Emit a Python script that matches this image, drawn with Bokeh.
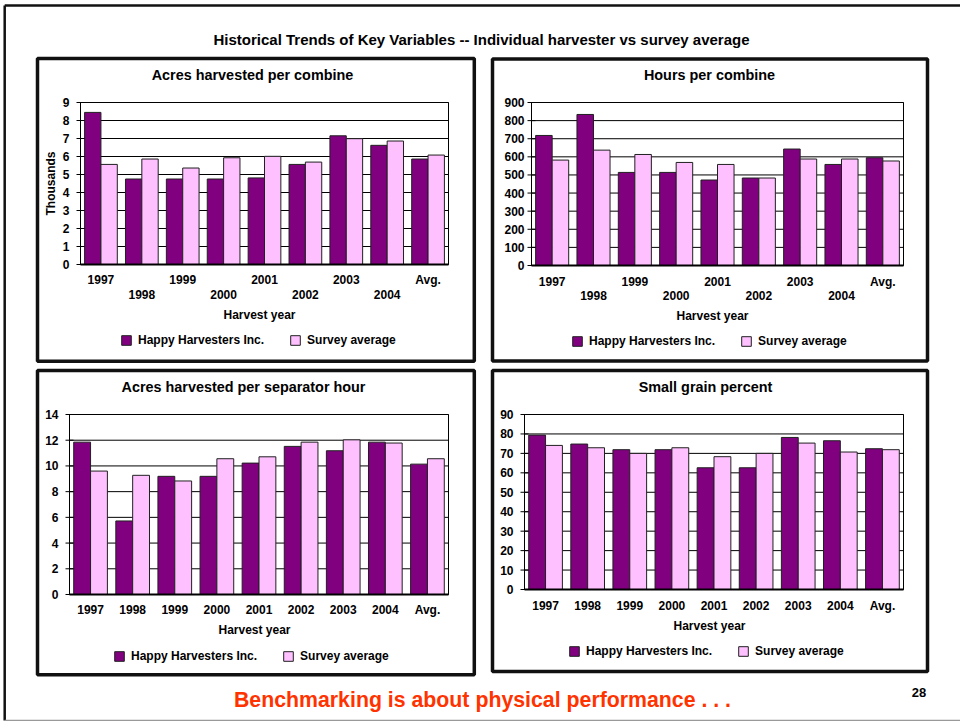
import math
from bokeh.plotting import figure
from bokeh.models import Range1d, Legend, LegendItem, ColumnDataSource
from bokeh.transform import dodge
from bokeh.core.properties import value
from bokeh.embed import file_html
from bokeh.resources import INLINE

# ---------------- data ----------------
years = ["1997", "1998", "1999", "2000", "2001", "2002", "2003", "2004", "Avg."]
series_names = ["Happy Harvesters Inc.", "Survey average"]

acres_hh = [8.45, 4.75, 4.75, 4.75, 4.81, 5.56, 7.15, 6.62, 5.86]
acres_sv = [5.56, 5.86, 5.36, 5.93, 6.01, 5.69, 6.99, 6.86, 6.08]
acres_ticks = [0, 1, 2, 3, 4, 5, 6, 7, 8, 9]

hours_hh = [718, 834, 514, 514, 472, 483, 643, 558, 595]
hours_sv = [582, 637, 613, 569, 558, 483, 588, 588, 577]
hours_ticks = [0, 100, 200, 300, 400, 500, 600, 700, 800, 900]

sep_hh = [11.85, 5.72, 9.19, 9.19, 10.22, 11.52, 11.18, 11.85, 10.14]
sep_sv = [9.60, 9.27, 8.83, 10.56, 10.71, 11.85, 12.03, 11.78, 10.56]
sep_ticks = [0, 2, 4, 6, 8, 10, 12, 14]

grain_hh = [79.4, 74.8, 71.9, 71.9, 62.6, 62.6, 78.2, 76.5, 72.4]
grain_sv = [74.1, 72.9, 70.0, 72.9, 68.3, 70.0, 75.3, 70.7, 71.9]
grain_ticks = [0, 10, 20, 30, 40, 50, 60, 70, 80, 90]

panel_titles = ["Acres harvested per combine", "Hours per combine",
                "Acres harvested per separator hour", "Small grain percent"]
main_title = "Historical Trends of Key Variables -- Individual harvester vs survey average"
footer_text = "Benchmarking is about physical performance . . ."
page_number = "28"
x_title = "Harvest year"
y_title = "Thousands"

# ---------------- style ----------------
FONT = "Liberation Sans"
HH_COLOR = "#800080"
SV_COLOR = "#FFC0FF"
BAR_LINE = "#202020"
W, H = 960, 721

positions = list(range(len(years)))

# one page-sized canvas, page pixel coordinates (y downwards)
p = figure(width=W, height=H, x_range=Range1d(0, W), y_range=Range1d(H, 0),
           output_backend="svg", toolbar_location=None, min_border=0,
           x_axis_location=None, y_axis_location=None)
p.title.visible = False
p.grid.visible = False
p.outline_line_color = None
p.background_fill_color = "white"
p.border_fill_color = "white"


def page_text(x, y, txt, size, color="#000000", angle=0.0):
    p.text(x=[x], y=[y], text=[txt], text_align="center", text_baseline="middle",
           angle=angle, text_font=value(FONT), text_font_style="bold",
           text_font_size=size, text_color=color)


# slide edges
p.segment(x0=[4.2, 4.2], y0=[5, 5], x1=[4.2, W], y1=[720, 5],
          line_color="#111111", line_width=2.5)
p.segment(x0=[4.2], y0=[720], x1=[W], y1=[720], line_color="#999999", line_width=1.5)

# panel boxes
p.quad(left=[37, 492, 37, 492], right=[473.8, 927, 473.8, 927],
       top=[58, 58.5, 370, 370], bottom=[360.7, 360.5, 674.3, 671],
       fill_color="white", line_color="#111111", line_width=3.5)

page_text(481, 39, main_title, "15px")
page_text(482, 699, footer_text, "21.3px", color="#FF3300")
page_text(918.5, 692, page_number, "13px")


def panel(frame, hh, sv, ticks, title, title_xy, xlabel_xy, legend_loc,
          label_offsets, stagger, tick_label_offset=-11, ylabel_xy=None):
    left, right, bottom, top = frame
    xr = Range1d(-0.5, len(years) - 0.5)
    sub = p.subplot(x_source=xr, y_source=Range1d(ticks[0], ticks[-1]),
                    x_target=Range1d(left, right), y_target=Range1d(bottom, top))

    # gridlines and frame
    sub.segment(x0=xr.start, x1=xr.end, y0=ticks, y1=ticks,
                line_color="#000000", line_width=1)
    sub.quad(left=xr.start, right=xr.end, bottom=ticks[0], top=ticks[-1],
             fill_color=None, line_color="#000000", line_width=1)

    src = ColumnDataSource(dict(pos=positions, hh=hh, sv=sv))
    r1 = sub.vbar(x=dodge("pos", -0.2), top="hh", bottom=0, width=0.4, source=src,
                  fill_color=HH_COLOR, line_color=BAR_LINE, line_width=1)
    r2 = sub.vbar(x=dodge("pos", 0.2), top="sv", bottom=0, width=0.4, source=src,
                  fill_color=SV_COLOR, line_color=BAR_LINE, line_width=1)

    # category axis line
    sub.segment(x0=xr.start, x1=xr.end, y0=ticks[0], y1=ticks[0],
                line_color="#000000", line_width=2)
    # value axis ticks + labels
    sub.scatter(x=xr.start, y=ticks, marker="dash", size=8,
                line_color="#000000", line_width=1)
    sub.text(x=xr.start, y=ticks, text=[str(t) for t in ticks], x_offset=tick_label_offset,
             text_align="right", text_baseline="middle", text_font=value(FONT),
             text_font_style="bold", text_font_size="12px", text_color="#000000")

    # category labels (staggered in two rows when crowded)
    if stagger:
        rows_idx = [[i for i in positions if i % 2 == 0], [i for i in positions if i % 2 == 1]]
    else:
        rows_idx = [positions]
    for idx, off in zip(rows_idx, label_offsets):
        sub.text(x=idx, y=ticks[0], text=[years[i] for i in idx], y_offset=off,
                 text_align="center", text_baseline="middle", text_font=value(FONT),
                 text_font_style="bold", text_font_size="12px", text_color="#000000")

    page_text(title_xy[0], title_xy[1], title, "14.4px")
    page_text(xlabel_xy[0], xlabel_xy[1], x_title, "12px")
    if ylabel_xy:
        page_text(ylabel_xy[0], ylabel_xy[1], y_title, "12px", angle=math.pi / 2)

    legend = Legend(items=[LegendItem(label=series_names[0], renderers=[r1]),
                           LegendItem(label=series_names[1], renderers=[r2])],
                    location=legend_loc, orientation="horizontal",
                    glyph_width=12, glyph_height=12, label_standoff=6, spacing=25,
                    padding=0, margin=0, label_height=12, label_width=10,
                    border_line_color=None, background_fill_alpha=0,
                    label_text_font=FONT, label_text_font_style="bold",
                    label_text_font_size="12px", label_text_color="#000000")
    p.add_layout(legend)


# frame = (left, right, y of zero, y of top tick) in page pixels
panel((80, 448, 264, 102), acres_hh, acres_sv, acres_ticks, panel_titles[0],
      (252, 74), (259, 314), (120, H - 347), (15, 30), True, ylabel_xy=(50, 183))
panel((531, 903, 265, 102), hours_hh, hours_sv, hours_ticks, panel_titles[1],
      (709, 74), (712, 315), (571, H - 348), (16, 30), True, tick_label_offset=-7)
panel((69, 448, 594, 414), sep_hh, sep_sv, sep_ticks, panel_titles[2],
      (243, 386), (254, 629), (113, H - 663), (15,), False)
panel((524, 903, 589, 414), grain_hh, grain_sv, grain_ticks, panel_titles[3],
      (705, 386), (709, 625), (568, H - 658), (16,), False)

open("out.html", "w").write(file_html(p, INLINE))
